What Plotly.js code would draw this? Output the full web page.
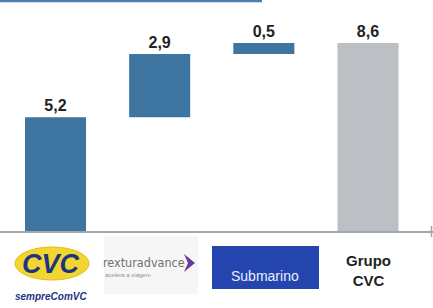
<!DOCTYPE html>
<html><head><meta charset="utf-8">
<script src="https://cdn.plot.ly/plotly-3.0.1.min.js"></script>
<style>html,body{margin:0;padding:0;background:#fff}#c{width:433px;height:308px}</style>
</head><body><div id="c"></div>
<script>
const categories = ["CVC", "Rextur Advance", "Submarino", "Grupo CVC"];
const values = [5.2, 2.9, 0.5, 8.6];
const measures = ["relative", "relative", "relative", "total"];
const labels = ["5,2", "2,9", "0,5", "8,6"];

const W = 433, H = 308, plotBottom = 231;
const px = x => x / W;
const py = y => (plotBottom - y) / plotBottom;
const sans = "Liberation Sans, Arial, sans-serif";
const cond = "DejaVu Sans Condensed, Liberation Sans Narrow, Liberation Sans, sans-serif";

const trace = {
  type: "waterfall",
  x: categories,
  y: values,
  measure: measures,
  text: labels,
  textposition: "outside",
  textfont: {family: sans, size: 16, color: "#222", weight: 700},
  cliponaxis: false,
  increasing: {marker: {color: "#3d74a0"}},
  decreasing: {marker: {color: "#3d74a0"}},
  totals: {marker: {color: "#bcc0c4"}},
  connector: {visible: false},
  hoverinfo: "none"
};

function ann(x, y, text, font) {
  return {xref: "paper", yref: "paper", x: px(x), y: py(y), text: text, showarrow: false,
          xanchor: "center", yanchor: "middle", font: font};
}

const layout = {
  width: W, height: H,
  margin: {l: 0, r: 0, t: 0, b: H - plotBottom},
  paper_bgcolor: "#fff", plot_bgcolor: "#fff",
  showlegend: false,
  waterfallgap: 0.414,
  xaxis: {range: [-0.533, 3.624], showticklabels: false, ticks: "", showgrid: false,
          zeroline: false, showline: true, linecolor: "#a3a7ab", linewidth: 2, fixedrange: true},
  yaxis: {range: [0, 10.57], visible: false, fixedrange: true},
  shapes: [
    {type: "line", xref: "paper", yref: "paper", x0: 0, x1: px(262), y0: py(1), y1: py(1),
     line: {color: "#4f7fa8", width: 2.5}},
    {type: "line", xref: "paper", yref: "paper", x0: px(431.5), x1: px(431.5), y0: py(226), y1: py(237),
     line: {color: "#a3a7ab", width: 1.5}},
    {type: "rect", xref: "paper", yref: "paper", x0: px(104), x1: px(198), y0: py(236), y1: py(294),
     fillcolor: "#f6f6f6", line: {width: 0}},
    {type: "circle", xref: "paper", yref: "paper", x0: px(15), x1: px(89), y0: py(247), y1: py(280),
     fillcolor: "#f3d532", line: {color: "#e2bd1a", width: 1}},
    {type: "path", xref: "paper", yref: "paper",
     path: `M ${px(184)},${py(254)} L ${px(195)},${py(263)} L ${px(184)},${py(272)} L ${px(188)},${py(263)} Z`,
     fillcolor: "#6a3a9a", line: {width: 0}},
    {type: "rect", xref: "paper", yref: "paper", x0: px(212), x1: px(319), y0: py(246), y1: py(289),
     fillcolor: "#2445ae", line: {width: 0}}
  ],
  annotations: [
    ann(51, 264, "<b><i>CVC</i></b>", {family: sans, size: 27, color: "#1d3580"}),
    ann(51, 296, "<b><i>sempreComVC</i></b>", {family: sans, size: 10, color: "#1d3580"}),
    ann(144, 262, "rexturadvance", {family: cond, size: 12.5, color: "#707070"}),
    ann(128, 275, "acelera a viagem", {family: sans, size: 6, color: "#909090"}),
    ann(265, 276, "Submarino", {family: sans, size: 14, color: "#e8f0ff"}),
    ann(368, 270, "<b>Grupo<br>CVC</b>", {family: sans, size: 15, color: "#222"})
  ]
};

Plotly.newPlot("c", [trace], layout, {displayModeBar: false, staticPlot: true});
</script></body></html>
